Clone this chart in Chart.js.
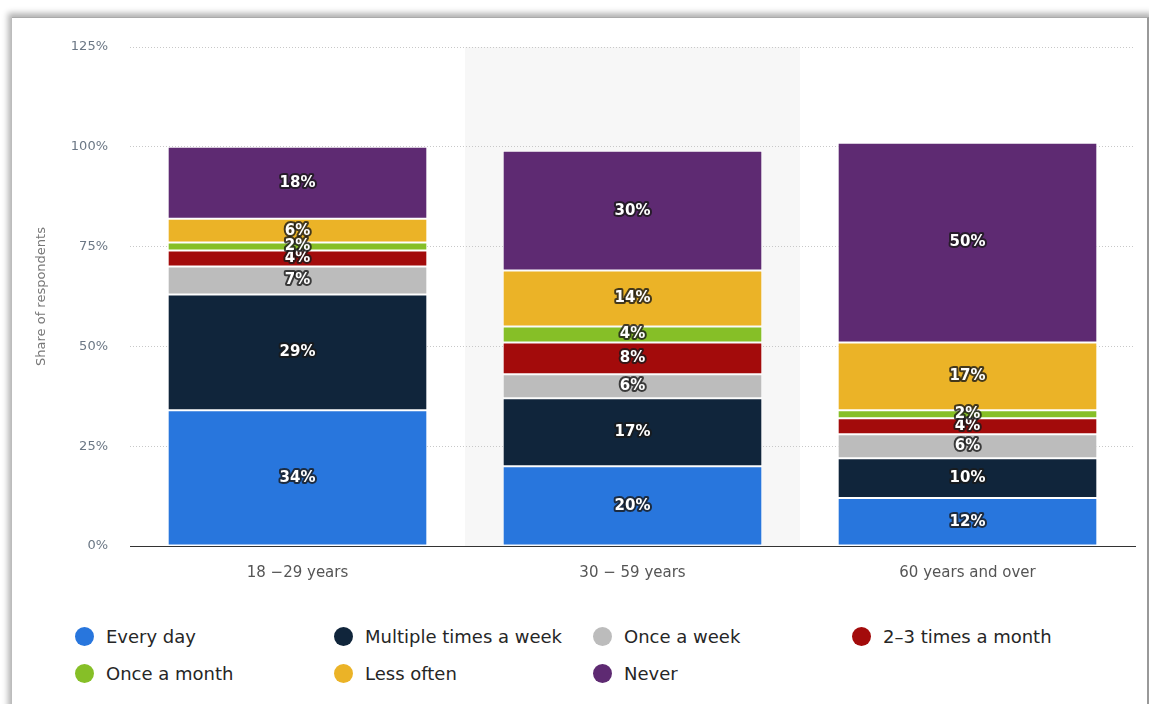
<!DOCTYPE html>
<html>
<head>
<meta charset="utf-8">
<script src="https://cdn.jsdelivr.net/npm/chart.js@4.4.1/dist/chart.umd.min.js"></script>
<style>
  body { margin: 0; background: #fff; width: 1149px; height: 704px; overflow: hidden; position: relative; }
  #frame { position: absolute; left: 12px; top: 17px; width: 1135px; height: 700px; background: #fff;
           box-shadow: 0 0 6px 4px rgba(0,0,0,0.3); border-right: 2px solid #999; border-top: 1px solid #aaa; }
  #wrap { position: absolute; left: 0; top: 0; width: 1149px; height: 600px; }
  #legend { position: absolute; left: 0; top: 0; font-family: "DejaVu Sans", sans-serif; font-size: 18px; color: #262626; }
  .item { position: absolute; display: flex; align-items: center; height: 24px; white-space: nowrap; }
  .dot { width: 19px; height: 19px; border-radius: 50%; margin-right: 12px; }
</style>
</head>
<body>
<div id="frame"></div>
<div id="wrap"><canvas id="chart" width="1149" height="600"></canvas></div>
<div id="legend"></div>
<script>
const categories = ["18 \u221229 years", "30 \u2212 59 years", "60 years and over"];
const seriesNames = ["Every day", "Multiple times a week", "Once a week", "2\u20133 times a month", "Once a month", "Less often", "Never"];
const seriesColors = ["#2876dd", "#10253b", "#bcbcbc", "#a30b0b", "#86bf27", "#ebb327", "#5e2a72"];
const everyDay = [34, 20, 12];
const multipleWeek = [29, 17, 10];
const onceWeek = [7, 6, 6];
const twoThreeMonth = [4, 8, 4];
const onceMonth = [2, 4, 2];
const lessOften = [6, 14, 17];
const never = [18, 30, 50];
const yTicks = [0, 25, 50, 75, 100, 125];

const seriesData = [everyDay, multipleWeek, onceWeek, twoThreeMonth, onceMonth, lessOften, never];

// light band behind the middle category
const bandPlugin = {
  id: 'band',
  beforeDraw(chart) {
    const x = chart.scales.x, a = chart.chartArea;
    const w = (x.getPixelForValue(1) - x.getPixelForValue(0));
    const c = x.getPixelForValue(1);
    const ctx = chart.ctx;
    ctx.save();
    ctx.fillStyle = '#f7f7f7';
    ctx.fillRect(c - w / 2, a.top, w, a.bottom - a.top);
    ctx.restore();
  }
};

// value labels in the middle of each segment
const labelPlugin = {
  id: 'labels',
  afterDatasetsDraw(chart) {
    const ctx = chart.ctx;
    ctx.save();
    ctx.font = 'bold 15px "DejaVu Sans", sans-serif';
    ctx.textAlign = 'center';
    ctx.textBaseline = 'middle';
    ctx.lineJoin = 'round';
    chart.data.datasets.forEach((ds, i) => {
      chart.getDatasetMeta(i).data.forEach((bar, j) => {
        const y = (bar.y + bar.base) / 2;
        const t = ds.data[j] + '%';
        ctx.lineWidth = 4;
        ctx.strokeStyle = 'rgba(25,25,25,0.8)';
        ctx.strokeText(t, bar.x, y);
        ctx.fillStyle = '#fff';
        ctx.fillText(t, bar.x, y);
      });
    });
    ctx.restore();
  }
};

const chart = new Chart(document.getElementById('chart').getContext('2d'), {
  type: 'bar',
  data: {
    labels: categories,
    datasets: seriesNames.map((n, i) => ({
      label: n,
      data: seriesData[i],
      backgroundColor: seriesColors[i],
      borderColor: '#fff',
      borderWidth: 1,
      borderSkipped: false,
      categoryPercentage: 0.775,
      barPercentage: 1
    }))
  },
  options: {
    responsive: false,
    animation: false,
    layout: { padding: { left: 30, right: 14, top: 47, bottom: 14 } },
    plugins: { legend: { display: false }, tooltip: { enabled: false } },
    scales: {
      x: {
        stacked: true,
        grid: { display: false, drawTicks: false },
        border: { display: true, color: '#333', width: 1 },
        ticks: { color: '#555', font: { family: '"DejaVu Sans", sans-serif', size: 15 }, padding: 18 },
        afterFit(s) { s.height = 40; }
      },
      y: {
        stacked: true,
        min: 0, max: 125,
        afterBuildTicks(s) { s.ticks = yTicks.map(v => ({ value: v })); },
        grid: { color: '#c8c8c8', drawTicks: false },
        border: { display: false, dash: [1, 2] },
        ticks: { color: '#6b7785', font: { family: '"DejaVu Sans", sans-serif', size: 13 }, padding: 22,
                 callback: v => v + '%' },
        title: { display: true, text: 'Share of respondents', color: '#777',
                 font: { family: '"DejaVu Sans", sans-serif', size: 13 } },
        afterFit(s) { s.width = 100; }
      }
    }
  },
  plugins: [bandPlugin, labelPlugin]
});

// html legend, four columns
const legend = document.getElementById('legend');
seriesNames.forEach((n, i) => {
  const d = document.createElement('div');
  d.className = 'item';
  d.style.left = (75 + (i % 4) * 259) + 'px';
  d.style.top = (624 + Math.floor(i / 4) * 37) + 'px';
  d.innerHTML = '<span class="dot" style="background:' + seriesColors[i] + '"></span>' + n;
  legend.appendChild(d);
});
</script>
</body>
</html>
